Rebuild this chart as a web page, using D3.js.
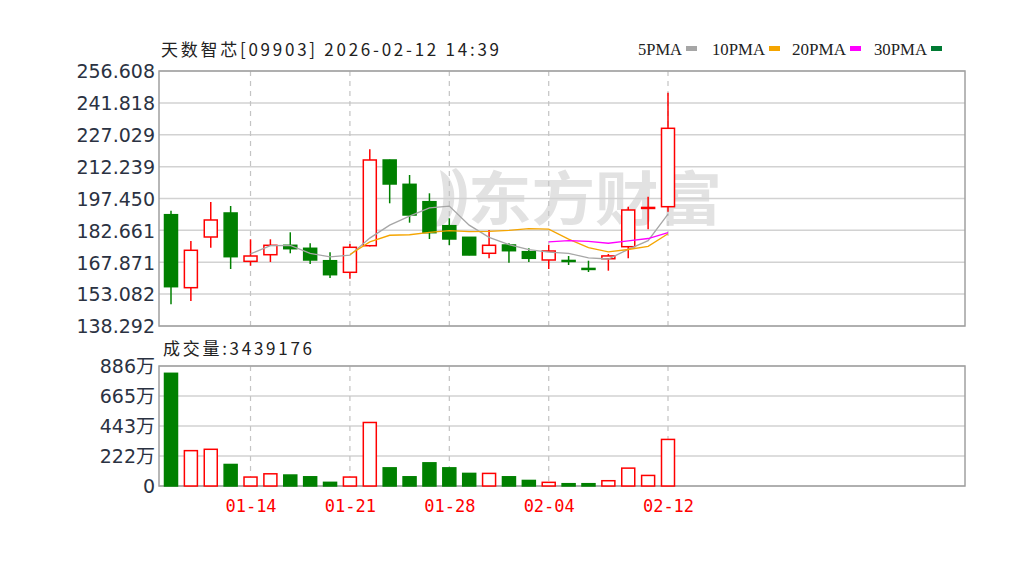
<!DOCTYPE html>
<html><head><meta charset="utf-8">
<script src="https://cdn.jsdelivr.net/npm/d3@7/dist/d3.min.js"></script>
<style>html,body{margin:0;padding:0;background:#fff;}svg{display:block;}</style>
</head><body>
<script>
const dates = ['01-08','01-09','01-12','01-13','01-14','01-15','01-16','01-19','01-20','01-21','01-22','01-23','01-26','01-27','01-28','01-29','01-30','02-02','02-03','02-04','02-05','02-06','02-09','02-10','02-11','02-12'];
const opens  = [189.94,156.07,179.59,190.73,168.30,171.37,175.74,174.35,168.59,163.21,175.55,215.32,204.03,195.97,184.83,179.45,172.03,175.88,172.77,168.92,168.70,165.00,169.50,175.09,192.90,193.65];
const highs  = [191.79,177.73,195.83,193.97,178.52,178.52,181.77,176.66,172.49,176.34,220.28,215.50,208.35,199.86,188.26,179.60,182.84,176.66,174.35,175.88,170.77,168.59,171.70,193.65,198.29,246.54];
const lows   = [148.36,149.90,174.62,164.74,166.27,167.99,172.03,167.06,160.56,160.24,175.20,195.22,186.23,178.66,175.88,171.10,169.70,167.66,167.99,164.74,166.60,163.35,163.96,169.70,183.16,191.33];
const closes = [156.53,173.42,187.48,170.45,170.77,175.74,174.16,168.92,162.10,174.81,215.32,204.18,189.80,181.60,178.66,171.24,175.74,173.23,169.70,173.09,168.40,164.85,170.80,192.12,193.30,230.02];
const volumes = [8320000,2610000,2710000,1590000,660000,900000,810000,680000,270000,660000,4690000,1340000,680000,1710000,1340000,930000,930000,680000,410000,270000,170000,170000,390000,1320000,780000,3439176];
const priceTicks = [256.608,241.818,227.029,212.239,197.450,182.661,167.871,153.082,138.292];
const volMax = 8860000;
const volTickValues = [8860000,6645000,4430000,2215000,0];
const volTickLabels = ['886万','665万','443万','222万','0'];
const dateTickIdx = [4,9,14,19,25];
const maPeriods = [5,10,20,30];
const maNames = ['5PMA','10PMA','20PMA','30PMA'];
const title = '天数智芯[09903] 2026-02-12 14:39';
const volTitle = '成交量:3439176';
const watermark = '东方财富';

const RED = '#ff0000', GREEN = '#008000';
const maColors = ['#a6a6a6','#f5a500','#ff00ff','#007a33'];

const svg = d3.select('body').append('svg').attr('width',1024).attr('height',571);
const L = 159, R = 965, T = 71, B = 326, VT = 366, VB = 486;

const x = d3.scaleLinear().domain([0, dates.length-1]).range([171, 668]);
const y = d3.scaleLinear().domain([138.292, 256.608]).range([B, T]);
const yv = d3.scaleLinear().domain([0, volMax]).range([VB, VT]);
const bw = 13;

// watermark
const wm = svg.append('g').attr('fill','#e2e2e2');
wm.append('path').attr('d','M440,170 C452,176 458,192 452,212 C448,224 440,228 434,226 C444,214 446,196 440,170 Z M456,168 C470,180 470,206 458,226 L450,226 C462,206 462,186 452,170 Z');
wm.append('text').text(watermark).attr('x',468).attr('y',220)
  .attr('font-family','"Noto Sans CJK SC"').attr('font-size',58).attr('font-weight',700)
  .attr('textLength',254).attr('lengthAdjust','spacingAndGlyphs');

// grid lines price
svg.append('g').selectAll('line').data(priceTicks).join('line')
  .attr('x1',L).attr('x2',R).attr('y1',d=>y(d)).attr('y2',d=>y(d))
  .attr('stroke','#d2d2d2').attr('stroke-width',1.5);
// grid lines volume
svg.append('g').selectAll('line').data(volTickValues).join('line')
  .attr('x1',L).attr('x2',R).attr('y1',d=>yv(d)).attr('y2',d=>yv(d))
  .attr('stroke','#d2d2d2').attr('stroke-width',1.5);
// vertical dashed lines
[[T,B],[VT,VB]].forEach(([a,b])=>{
  svg.append('g').selectAll('line').data(dateTickIdx).join('line')
    .attr('x1',d=>x(d)).attr('x2',d=>x(d)).attr('y1',a).attr('y2',b)
    .attr('stroke','#c4c4c4').attr('stroke-width',1.2).attr('stroke-dasharray','5,5');
});

// frames
svg.append('rect').attr('x',L).attr('y',T).attr('width',R-L).attr('height',B-T)
  .attr('fill','none').attr('stroke','#a0a0a0').attr('stroke-width',1.5);
svg.append('rect').attr('x',L).attr('y',VT).attr('width',R-L).attr('height',VB-VT)
  .attr('fill','none').attr('stroke','#a0a0a0').attr('stroke-width',1.5);

// candles
const idx = d3.range(dates.length);
const up = i => closes[i] >= opens[i];
const cg = svg.append('g');
idx.forEach(i=>{
  const col = up(i) ? RED : GREEN;
  const top = y(Math.max(opens[i],closes[i]));
  const bot = y(Math.min(opens[i],closes[i]));
  const g = cg.append('g');
  g.append('line').attr('x1',x(i)).attr('x2',x(i)).attr('y1',y(highs[i])).attr('y2',top)
    .attr('stroke',col).attr('stroke-width',1.5);
  g.append('line').attr('x1',x(i)).attr('x2',x(i)).attr('y1',bot).attr('y2',y(lows[i]))
    .attr('stroke',col).attr('stroke-width',1.5);
  g.append('rect').attr('x',x(i)-bw/2).attr('y',top).attr('width',bw).attr('height',Math.max(bot-top,1))
    .attr('fill',up(i)?'#fff':GREEN).attr('stroke',col).attr('stroke-width',1.5);
});

// moving averages
maPeriods.forEach((p,k)=>{
  const pts = idx.filter(i=>i>=p-1).map(i=>[i, d3.mean(closes.slice(i-p+1,i+1))]);
  if (pts.length<2) return;
  svg.append('path').datum(pts)
    .attr('d', d3.line().x(d=>x(d[0])).y(d=>y(d[1])))
    .attr('fill','none').attr('stroke',maColors[k]).attr('stroke-width',1.3);
});

// volume bars
svg.append('g').selectAll('rect').data(idx).join('rect')
  .attr('x',i=>x(i)-bw/2).attr('y',i=>yv(volumes[i])).attr('width',bw)
  .attr('height',i=>Math.max(VB-yv(volumes[i]),1))
  .attr('fill',i=>up(i)?'#fff':GREEN).attr('stroke',i=>up(i)?RED:GREEN).attr('stroke-width',1.5);

// axes
const axFont = '"DejaVu Sans", Verdana, sans-serif';
const ya = svg.append('g').attr('transform',`translate(${L-4},0)`)
  .call(d3.axisLeft(y).tickValues(priceTicks).tickFormat(d3.format('.3f')).tickSize(0).tickPadding(0));
ya.select('.domain').remove();
ya.selectAll('text').attr('font-family',axFont).attr('font-size',19).attr('fill','#2b3242').attr('dy','0.36em');

const yva = svg.append('g').attr('transform',`translate(${L-4},0)`)
  .call(d3.axisLeft(yv).tickValues(volTickValues).tickFormat((d,i)=>volTickLabels[i]).tickSize(0).tickPadding(0));
yva.select('.domain').remove();
yva.selectAll('text').attr('font-family','"DejaVu Sans", "Noto Sans CJK SC", sans-serif').attr('font-size',19).attr('fill','#2b3242').attr('dy','0.36em');

const xa = svg.append('g').attr('transform',`translate(0,${VB})`)
  .call(d3.axisBottom(x).tickValues(dateTickIdx).tickFormat(i=>dates[i]).tickSize(0).tickPadding(14));
xa.select('.domain').remove();
xa.selectAll('text').attr('font-family','"DejaVu Sans Mono", monospace').attr('font-size',17).attr('fill','#ff0000');

// titles
svg.append('text').text(title).attr('x',161).attr('y',56)
  .attr('font-family','"Noto Sans CJK SC", "DejaVu Sans Mono", sans-serif').attr('font-size',17).attr('fill','#222')
  .attr('textLength',338).attr('lengthAdjust','spacing');
svg.append('text').text(volTitle).attr('x',163).attr('y',355)
  .attr('font-family','"Noto Sans CJK SC", "DejaVu Sans Mono", sans-serif').attr('font-size',17).attr('fill','#222')
  .attr('textLength',149).attr('lengthAdjust','spacing');

// legend
const legX = [638,712,792,874];
const legW = [44,53,54,53];
maNames.forEach((n,k)=>{
  svg.append('text').text(n).attr('x',legX[k]).attr('y',55)
    .attr('font-family','"Liberation Serif", serif').attr('font-size',16).attr('fill','#222')
    .attr('textLength',legW[k]).attr('lengthAdjust','spacingAndGlyphs');
  svg.append('rect').attr('x',legX[k]+legW[k]+4).attr('y',46).attr('width',11).attr('height',5)
    .attr('fill',maColors[k]);
});
</script>
</body></html>
